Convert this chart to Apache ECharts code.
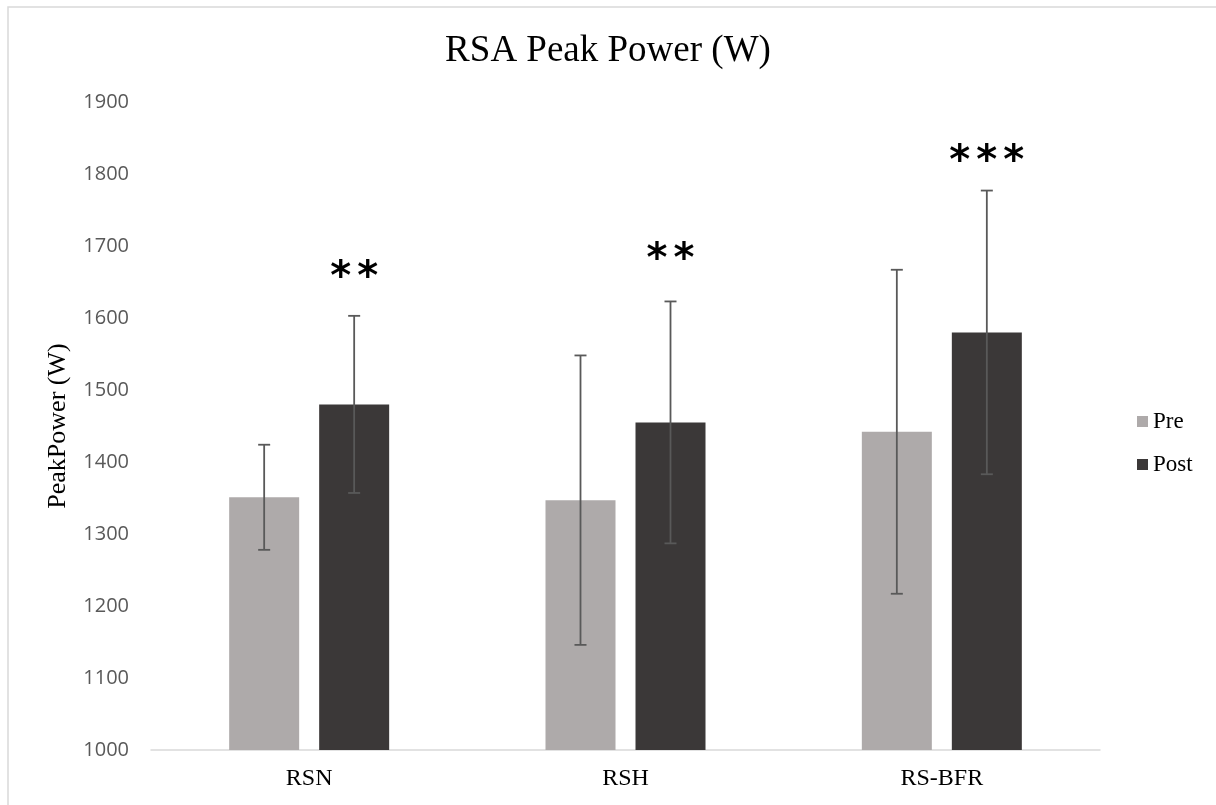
<!DOCTYPE html>
<html>
<head>
<meta charset="utf-8">
<script src="https://cdn.jsdelivr.net/npm/echarts@6/dist/echarts.min.js"></script>
<style>html,body{margin:0;padding:0;background:#fff}#c{width:1216px;height:805px}</style>
</head>
<body>
<div id="c"></div>
<script>
const categories = ['RSN', 'RSH', 'RS-BFR'];
const preMean = [1351, 1347, 1442];
const preSD = [73, 201, 225];
const postMean = [1480, 1455, 1580];
const postSD = [123, 168, 197];
const stars = ['**', '**', '***'];
const starLevel = [1667, 1692, 1828];
const yTicks = { min: 1000, max: 1900, interval: 100 };

const BAR_W = 70, BAR_GAP_PX = 20;
const OFFSET = (BAR_W + BAR_GAP_PX) / 2;
const STAR_SIZE = 40, STAR_STEP = 27;

function errSeries(name, means, sds, dir) {
  return {
    type: 'custom',
    name: name + ' err',
    z: 5,
    silent: true,
    data: means.map((m, i) => [i, m - sds[i], m + sds[i]]),
    renderItem: function (params, api) {
      const i = api.value(0);
      const lo = api.coord([i, api.value(1)]);
      const hi = api.coord([i, api.value(2)]);
      const x = lo[0] + dir * OFFSET;
      const cap = 6;
      const st = { stroke: '#595959', lineWidth: 1.8 };
      return {
        type: 'group',
        children: [
          { type: 'line', shape: { x1: x, y1: lo[1], x2: x, y2: hi[1] }, style: st },
          { type: 'line', shape: { x1: x - cap, y1: lo[1], x2: x + cap, y2: lo[1] }, style: st },
          { type: 'line', shape: { x1: x - cap, y1: hi[1], x2: x + cap, y2: hi[1] }, style: st }
        ]
      };
    }
  };
}

const chart = echarts.init(document.getElementById('c'));
chart.setOption({
  backgroundColor: '#fff',
  animation: false,
  title: {
    text: 'RSA Peak Power (W)',
    left: 'center',
    top: 28,
    textStyle: { fontFamily: 'Liberation Serif', fontSize: 37, fontWeight: 'normal', color: '#000' }
  },
  legend: {
    orient: 'vertical',
    left: 1132,
    top: 405,
    itemWidth: 11,
    itemHeight: 11,
    itemGap: 20,
    icon: 'rect',
    data: ['Pre', 'Post'],
    textStyle: { fontFamily: 'Liberation Serif', fontSize: 23, color: '#000' }
  },
  graphic: [{
    type: 'rect',
    shape: { x: 8, y: 7, width: 1230, height: 820 },
    style: { fill: 'none', stroke: '#D9D9D9', lineWidth: 1.5 },
    silent: true
  }],
  grid: { left: 151, right: 116, top: 102, bottom: 55 },
  xAxis: {
    type: 'category',
    data: categories,
    axisTick: { show: false },
    axisLine: { lineStyle: { color: '#D9D9D9', width: 1.5 } },
    axisLabel: { fontFamily: 'Liberation Serif', fontSize: 24, color: '#000', margin: 17 }
  },
  yAxis: {
    type: 'value',
    min: yTicks.min,
    max: yTicks.max,
    interval: yTicks.interval,
    name: 'PeakPower (W)',
    nameLocation: 'middle',
    nameRotate: 90,
    nameGap: 80,
    nameTextStyle: { fontFamily: 'Liberation Serif', fontSize: 26, color: '#000' },
    splitLine: { show: false },
    axisLine: { show: false },
    axisTick: { show: false },
    axisLabel: {
      fontFamily: 'Open Sans', fontSize: 20, color: '#595959', margin: 22,
      formatter: v => String(v)
    }
  },
  series: [
    {
      name: 'Pre', type: 'bar', data: preMean, barWidth: BAR_W,
      barGap: (BAR_GAP_PX / BAR_W * 100) + '%',
      itemStyle: { color: '#AEAAAA' }
    },
    {
      name: 'Post', type: 'bar', data: postMean, barWidth: BAR_W,
      itemStyle: { color: '#3B3838' }
    },
    errSeries('Pre', preMean, preSD, -1),
    errSeries('Post', postMean, postSD, 1),
    {
      type: 'custom',
      name: 'sig',
      silent: true,
      z: 6,
      data: starLevel.map((v, i) => [i, v]),
      renderItem: function (params, api) {
        const i = api.value(0);
        const p = api.coord([i, api.value(1)]);
        const s = stars[params.dataIndex];
        const n = s.length;
        const cx = p[0] + OFFSET;
        const children = [];
        for (let k = 0; k < n; k++) {
          children.push({
            type: 'text',
            style: {
              text: s[k],
              x: cx + (k - (n - 1) / 2) * STAR_STEP,
              y: p[1] + STAR_SIZE * 0.22,
              align: 'center',
              verticalAlign: 'middle',
              font: 'bold ' + STAR_SIZE + 'px "DejaVu Sans"',
              fill: '#000'
            }
          });
        }
        return { type: 'group', children: children };
      }
    }
  ]
});
</script>
</body>
</html>
